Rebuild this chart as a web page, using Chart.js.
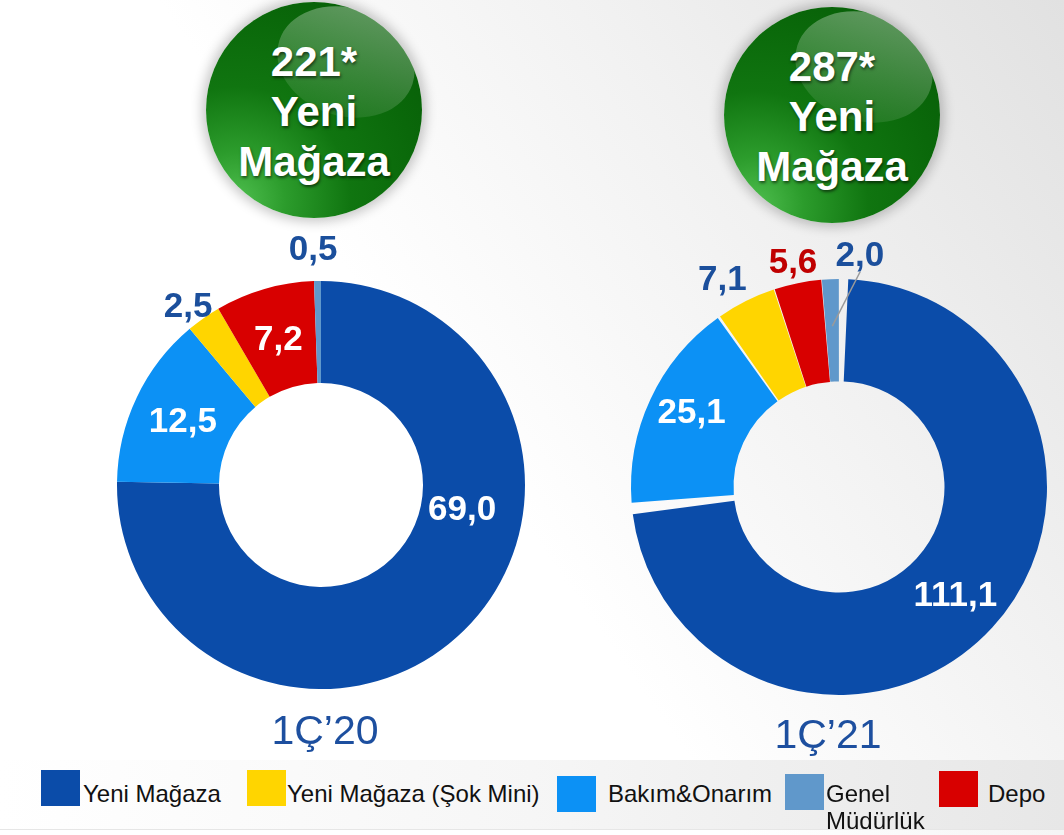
<!DOCTYPE html>
<html lang="tr">
<head>
<meta charset="utf-8">
<title>Yeni Mağaza</title>
<script src="https://cdn.jsdelivr.net/npm/chart.js@4.4.1/dist/chart.umd.min.js"></script>
<style>
  html, body { margin: 0; padding: 0; }
  body {
    width: 1064px; height: 835px; overflow: hidden; position: relative;
    font-family: 'Liberation Sans', Arial, sans-serif;
    background: linear-gradient(235deg, #e1e1e1 0%, #f1f1f1 28%, #ffffff 55%);
  }
  .legend-bar {
    position: absolute; left: 0; top: 760px; width: 1064px; height: 69px;
    background: linear-gradient(to right, #ffffff 0%, #f6f6f6 50%, #e7e7e7 100%);
    border-bottom: 1px solid #e6e6e6;
  }
  .chart-box { position: absolute; width: 540px; height: 540px; }
  .badge {
    position: absolute; width: 216px; height: 216px; border-radius: 50%;
    background: radial-gradient(circle at 14% 92%, #4fbf4f 0%, #2c9c2c 18%, #107510 42%, #0a680a 68%, #065806 100%);
    box-shadow: 0 0 12px 4px rgba(0, 0, 0, 0.22);
    overflow: hidden;
  }
  .badge .shine {
    position: absolute; left: 70px; top: 6px; width: 140px; height: 108px; border-radius: 50%;
    transform: rotate(18deg);
    background: linear-gradient(to bottom, rgba(255,255,255,0.34), rgba(255,255,255,0.08));
  }
  .badge .txt {
    position: absolute; left: 0; width: 216px; text-align: center;
    color: #fff; font-weight: bold; font-size: 42px; line-height: 50px;
    text-shadow: 1px 2px 3px rgba(0, 0, 0, 0.55);
  }
  .year {
    position: absolute; width: 200px; text-align: center;
    font-size: 41px; line-height: 41px; color: #1d4f9f;
  }
  .lg-box { position: absolute; width: 39px; height: 36px; }
  .lg-text {
    position: absolute; font-size: 24px; line-height: 27px; color: #111;
    white-space: normal;
  }
</style>
</head>
<body>
<div class="legend-bar"></div>

<div class="badge" id="badge0" style="left:206px; top:2px;"><div class="shine"></div><div class="txt" style="top:35px;"></div></div>
<div class="badge" id="badge1" style="left:724px; top:7px;"><div class="shine"></div><div class="txt" style="top:35px;"></div></div>

<div class="chart-box" style="left:51px; top:215px;"><canvas id="donut20"></canvas></div>
<div class="chart-box" style="left:569px; top:217px;"><canvas id="donut21"></canvas></div>

<div class="year" id="year0" style="left:225px; top:710px;"></div>
<div class="year" id="year1" style="left:728px; top:714px;"></div>

<div id="legend"></div>

<script>
// ---------- Data ----------
const categories = ['Yeni Mağaza', 'Bakım&Onarım', 'Yeni Mağaza (Şok Mini)', 'Depo', 'Genel Müdürlük'];
const values20 = [69.0, 12.5, 2.5, 7.2, 0.5];
const values21 = [111.1, 25.1, 7.1, 5.6, 2.0];
const periods = ['1Ç’20', '1Ç’21'];
const newStores = ['221*', '287*'];

// legend shows the categories in a different order than the slices
const legendOrder = [0, 2, 1, 4, 3];

// ---------- Styles ----------
const sliceColors = ['#0b4ca9', '#0c91f5', '#ffd500', '#d80000', '#6098cb'];
const darkBlue = '#1b4f9c';

// label placement per slice: radius as share of outer radius, angle shift in degrees
const labels20 = {
  radius: [0.70, 0.75, 1.10, 0.754, 1.165],
  shift: [-36.5, 0, -1.2, 0, -0.9],
  colors: ['#fff', '#fff', darkBlue, '#fff', darkBlue]
};
const labels21 = {
  radius: [0.77, 0.81, 1.17, 1.13, 1.145],
  shift: [0, 2.4, -2.5, 0, 7.5],
  colors: ['#fff', '#fff', darkBlue, '#c00000', darkBlue],
  leader: { index: 4, from: [0.785, 0], to: [1.055, 8] }
};

const fmt = v => v.toFixed(1).replace('.', ',');

// ---------- Slice value labels ----------
const sliceLabels = {
  id: 'sliceLabels',
  afterDatasetsDraw(chart, args, opts) {
    const { ctx } = chart;
    const meta = chart.getDatasetMeta(0);
    const data = chart.data.datasets[0].data;
    const deg = Math.PI / 180;
    const fontSize = 35;

    ctx.save();
    ctx.font = `bold ${fontSize}px "Liberation Sans", Arial, sans-serif`;
    ctx.textAlign = 'center';
    ctx.textBaseline = 'alphabetic';

    meta.data.forEach((arc, i) => {
      const { x, y, startAngle, endAngle, outerRadius } =
        arc.getProps(['x', 'y', 'startAngle', 'endAngle', 'outerRadius'], true);
      const a = (startAngle + endAngle) / 2 + opts.shift[i] * deg;
      const r = outerRadius * opts.radius[i];
      ctx.fillStyle = opts.colors[i];
      ctx.fillText(fmt(data[i]), x + Math.cos(a) * r, y + Math.sin(a) * r + fontSize * 0.36);
    });

    if (opts.leader) {
      const arc = meta.data[opts.leader.index];
      const { x, y, startAngle, endAngle, outerRadius } =
        arc.getProps(['x', 'y', 'startAngle', 'endAngle', 'outerRadius'], true);
      const mid = (startAngle + endAngle) / 2;
      const p = ([rf, s]) => {
        const a = mid + s * deg;
        return [x + Math.cos(a) * outerRadius * rf, y + Math.sin(a) * outerRadius * rf];
      };
      const [x1, y1] = p(opts.leader.from);
      const [x2, y2] = p(opts.leader.to);
      ctx.strokeStyle = '#9a9a9a';
      ctx.lineWidth = 1.5;
      ctx.beginPath();
      ctx.moveTo(x1, y1);
      ctx.lineTo(x2, y2);
      ctx.stroke();
    }
    ctx.restore();
  }
};

// ---------- Donuts ----------
function renderDonut(canvasId, values, radius, cutout, spacing, labelOpts) {
  return new Chart(document.getElementById(canvasId), {
    type: 'doughnut',
    data: {
      labels: categories,
      datasets: [{
        data: values,
        backgroundColor: sliceColors,
        borderWidth: 0,
        spacing: spacing,
        radius: radius,
        cutout: cutout
      }]
    },
    options: {
      responsive: true,
      maintainAspectRatio: false,
      animation: false,
      layout: { padding: 0 },
      plugins: {
        legend: { display: false },
        tooltip: { enabled: false },
        sliceLabels: labelOpts
      }
    },
    plugins: [sliceLabels]
  });
}

renderDonut('donut20', values20, 204, '50%', 0, labels20);
renderDonut('donut21', values21, 205, '50%', 6, labels21);

// ---------- Badges and period titles ----------
newStores.forEach((n, i) => {
  document.querySelector(`#badge${i} .txt`).innerHTML = `${n}<br>Yeni<br>Mağaza`;
  document.getElementById(`year${i}`).textContent = periods[i];
});

// ---------- Legend ----------
const legendBoxes = [
  { x: 41, y: 770, tx: 83, w: 'auto' },
  { x: 247, y: 770, tx: 287, w: 'auto' },
  { x: 557, y: 776, tx: 608, w: 'auto' },
  { x: 785, y: 774, tx: 826, w: '100px' },
  { x: 939, y: 771, tx: 988, w: 'auto' }
];
const legend = document.getElementById('legend');
legendOrder.forEach((ci, k) => {
  const pos = legendBoxes[k];
  const box = document.createElement('div');
  box.className = 'lg-box';
  box.style.left = pos.x + 'px';
  box.style.top = pos.y + 'px';
  box.style.background = sliceColors[ci];
  legend.appendChild(box);

  const txt = document.createElement('div');
  txt.className = 'lg-text';
  txt.style.left = pos.tx + 'px';
  txt.style.top = '780px';
  txt.style.width = pos.w;
  if (pos.w === 'auto') txt.style.whiteSpace = 'nowrap';
  txt.textContent = categories[ci];
  legend.appendChild(txt);
});
</script>
</body>
</html>
